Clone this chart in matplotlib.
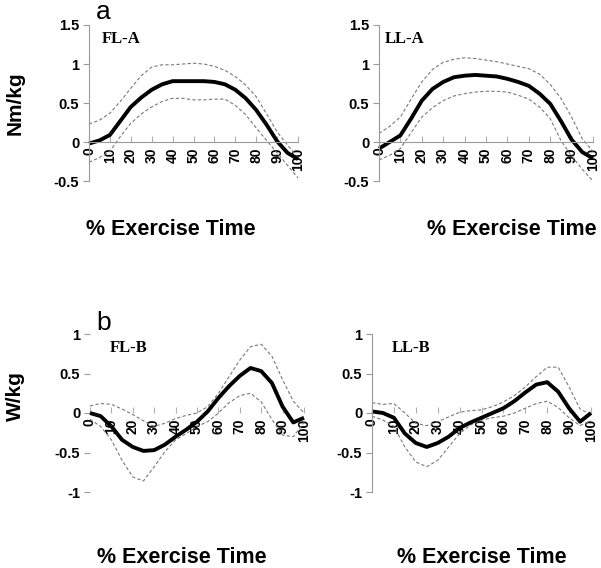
import numpy as np
import matplotlib
matplotlib.use("Agg")
import matplotlib.pyplot as plt

W, H = 601, 568

# % exercise time, sampled every 5 %
pct = list(range(0, 101, 5))

# a) moment (Nm/kg)
fla_mean = [-0.02, 0.02, 0.09, 0.27, 0.45, 0.57, 0.67, 0.74, 0.78, 0.78, 0.78,
            0.78, 0.77, 0.74, 0.67, 0.56, 0.41, 0.22, 0.01, -0.14, -0.22]
fla_hi = [0.23, 0.28, 0.37, 0.52, 0.69, 0.85, 0.96, 0.99, 0.99, 1.00, 1.01,
          1.00, 0.97, 0.92, 0.84, 0.73, 0.58, 0.36, 0.13, -0.04, -0.20]
fla_lo = [-0.26, -0.20, -0.12, 0.07, 0.24, 0.36, 0.45, 0.52, 0.56, 0.56, 0.54,
          0.54, 0.55, 0.55, 0.47, 0.35, 0.18, 0.02, -0.14, -0.30, -0.46]

lla_mean = [-0.085, 0.0, 0.085, 0.30, 0.53, 0.68, 0.77, 0.83, 0.85, 0.86, 0.85,
            0.84, 0.81, 0.77, 0.72, 0.62, 0.49, 0.27, 0.03, -0.13, -0.21]
lla_hi = [0.11, 0.20, 0.32, 0.55, 0.77, 0.93, 1.02, 1.06, 1.08, 1.07, 1.05,
          1.03, 1.00, 0.97, 0.94, 0.87, 0.74, 0.56, 0.32, 0.04, -0.12]
lla_lo = [-0.23, -0.17, -0.085, 0.12, 0.32, 0.44, 0.53, 0.59, 0.62, 0.64, 0.65,
          0.65, 0.64, 0.60, 0.55, 0.45, 0.30, 0.02, -0.18, -0.35, -0.50]

# b) power (W/kg)
flb_mean = [0.0, -0.04, -0.17, -0.34, -0.43, -0.48, -0.47, -0.40, -0.30, -0.21, -0.11,
            0.02, 0.19, 0.34, 0.47, 0.57, 0.53, 0.38, 0.08, -0.12, -0.06]
flb_hi = [0.09, 0.12, 0.11, 0.05, -0.02, -0.10, -0.17, -0.13, -0.07, -0.03, 0.0,
          0.08, 0.25, 0.46, 0.67, 0.84, 0.87, 0.72, 0.42, 0.15, 0.0]
flb_lo = [-0.08, -0.17, -0.34, -0.60, -0.81, -0.86, -0.68, -0.49, -0.34, -0.26, -0.17,
          -0.11, 0.0, 0.13, 0.22, 0.25, 0.14, -0.08, -0.28, -0.30, -0.12]

llb_mean = [0.02, 0.0, -0.06, -0.26, -0.38, -0.43, -0.38, -0.30, -0.19, -0.12, -0.06,
            0.0, 0.06, 0.15, 0.26, 0.36, 0.39, 0.27, 0.06, -0.11, 0.0]
llb_hi = [0.13, 0.11, 0.12, 0.0, -0.13, -0.16, -0.11, -0.05, 0.01, 0.03, 0.04,
          0.08, 0.14, 0.22, 0.33, 0.46, 0.58, 0.58, 0.33, 0.05, -0.02]
llb_lo = [-0.04, -0.09, -0.17, -0.43, -0.62, -0.68, -0.60, -0.43, -0.26, -0.15, -0.09,
          -0.06, -0.04, 0.0, 0.06, 0.12, 0.15, 0.07, -0.06, -0.16, -0.10]

xticks = list(range(0, 101, 10))

fig = plt.figure(figsize=(W / 100, H / 100), dpi=100)
plt.rcParams['font.family'] = ['Liberation Sans', 'DejaVu Sans']


def make_ax(x0, x1, ytop, ybot, ylim, yticks, show_left, show_bottom):
    ax = fig.add_axes([x0 / W, 1 - ybot / H, (x1 - x0) / W, (ybot - ytop) / H])
    ax.set_xlim(0, 100)
    ax.set_ylim(*ylim)
    ax.patch.set_alpha(0)
    for s in ['top', 'right']:
        ax.spines[s].set_visible(False)
    ax.spines['bottom'].set_position(('data', 0))
    ax.spines['left'].set_color('#9a9a9a')
    ax.spines['bottom'].set_color('#9a9a9a')
    ax.spines['left'].set_visible(show_left)
    ax.spines['bottom'].set_visible(show_bottom)
    ax.set_xticks(xticks)
    ax.set_yticks(yticks)
    ax.set_yticklabels([('%g' % v) for v in yticks])
    ax.tick_params(axis='y', direction='out', length=4, color='#9a9a9a',
                   labelsize=10.5, pad=3)
    ax.tick_params(axis='x', direction='in', length=4, color='#b0b0b0',
                   labelsize=10, labelrotation=90, pad=4)
    for lab in ax.get_xticklabels() + ax.get_yticklabels():
        lab.set_fontweight('bold')
    return ax


def draw(ax, mean, hi, lo):
    ax.plot(pct, hi, color='#7a7a7a', lw=0.8, ls=(0, (3, 2)), clip_on=False)
    ax.plot(pct, lo, color='#7a7a7a', lw=0.8, ls=(0, (3, 2)), clip_on=False)
    ax.plot(pct, mean, color='black', lw=2.8, clip_on=False,
            solid_joinstyle='round', solid_capstyle='butt')


ax1 = make_ax(89, 298, 25, 181, (-0.5, 1.5), [-0.5, 0, 0.5, 1, 1.5], True, True)
draw(ax1, fla_mean, fla_hi, fla_lo)
ax2 = make_ax(379, 593, 25, 181, (-0.5, 1.5), [-0.5, 0, 0.5, 1, 1.5], True, True)
draw(ax2, lla_mean, lla_hi, lla_lo)
ax3 = make_ax(90, 304, 334, 492, (-1, 1), [-1, -0.5, 0, 0.5, 1], False, False)
draw(ax3, flb_mean, flb_hi, flb_lo)
ax4 = make_ax(372, 591, 334, 492, (-1, 1), [-1, -0.5, 0, 0.5, 1], True, False)
draw(ax4, llb_mean, llb_hi, llb_lo)


def ftext(x, y, s, **kw):
    fig.text(x / W, 1 - y / H, s, **kw)


serif = ['Liberation Serif', 'DejaVu Serif']
ftext(102, 43, 'FL-A', family=serif, fontweight='bold', fontsize=12, va='baseline')
ftext(385, 43, 'LL-A', family=serif, fontweight='bold', fontsize=12, va='baseline')
ftext(110, 352, 'FL-B', family=serif, fontweight='bold', fontsize=12, va='baseline')
ftext(392, 352, 'LL-B', family=serif, fontweight='bold', fontsize=12, va='baseline')

ftext(96, 19, 'a', fontsize=19, va='baseline')
ftext(96, 330, 'b', fontsize=19, va='baseline')

ftext(15, 103, 'Nm/kg', fontsize=15, fontweight='bold', rotation=90,
      ha='center', va='center')
ftext(15, 396, 'W/kg', fontsize=15, fontweight='bold', rotation=90,
      ha='center', va='center')

xl = '% Exercise Time'
ftext(171, 235, xl, fontsize=15.5, fontweight='bold', ha='center', va='baseline')
ftext(512, 235, xl, fontsize=15.5, fontweight='bold', ha='center', va='baseline')
ftext(182, 563, xl, fontsize=15.5, fontweight='bold', ha='center', va='baseline')
ftext(482, 563, xl, fontsize=15.5, fontweight='bold', ha='center', va='baseline')

fig.savefig('out.png', dpi=100)
